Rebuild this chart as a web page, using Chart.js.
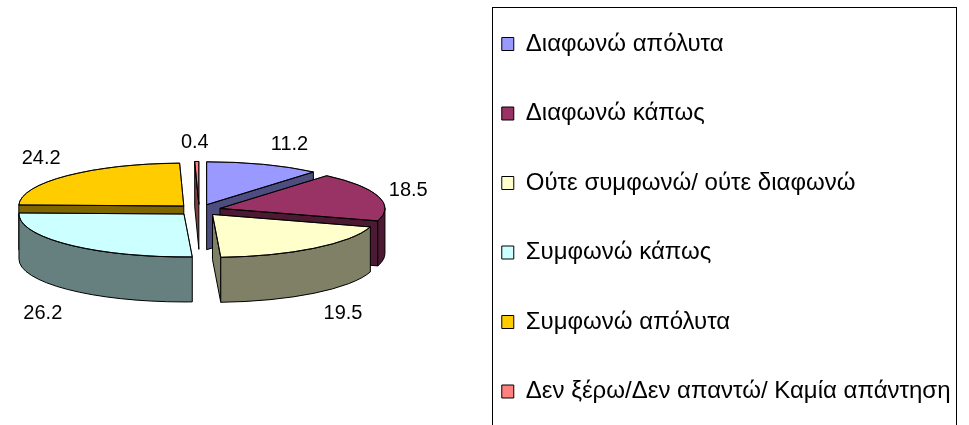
<!DOCTYPE html>
<html>
<head>
<meta charset="utf-8">
<script src="https://cdn.jsdelivr.net/npm/chart.js@4"></script>
<style>
  html, body { margin: 0; padding: 0; background: #fff; overflow: hidden; height: 425px; }
  /* canvas is bigger than the window, the legend frame gets cut off at the bottom */
  canvas { display: block; margin: -29px 0 0 -58px; }
</style>
</head>
<body>
<canvas id="pie" width="1030" height="478"></canvas>
<script>
const categories = ['Διαφωνώ απόλυτα', 'Διαφωνώ κάπως', 'Ούτε συμφωνώ/ ούτε διαφωνώ', 'Συμφωνώ κάπως', 'Συμφωνώ απόλυτα', 'Δεν ξέρω/Δεν απαντώ/ Καμία απάντηση'];
const values = [11.2, 18.5, 19.5, 26.2, 24.2, 0.4];
const topColors = ['#9999FF', '#993366', '#FFFFCC', '#CCFFFF', '#FFCC00', '#FF8080'];
const sideColors = ['#4D4D80', '#4D1A33', '#808066', '#668080', '#806600', '#804040'];

// back slices first so the front ones cover them
const drawOrder = [5, 0, 4, 1, 3, 2];
// label nudge from the rim point of each slice
const labelNudge = [[26, -20], [30, -6], [29, 65], [-26, 69], [-26, -17], [-2, -19]];

const squash = 0.26;
const depth = 45;
const explode = 21.7;

function tipOf(arc) {
  const mid = (arc.startAngle + arc.endAngle) / 2;
  return {
    x: arc.x + Math.cos(mid) * explode,
    y: arc.y + Math.sin(mid) * explode * squash,
    mid: mid
  };
}

function radialWall(ctx, tip, r, angle) {
  const rx = tip.x + Math.cos(angle) * r;
  const ry = tip.y + Math.sin(angle) * r * squash;
  ctx.beginPath();
  ctx.moveTo(tip.x, tip.y);
  ctx.lineTo(rx, ry);
  ctx.lineTo(rx, ry + depth);
  ctx.lineTo(tip.x, tip.y + depth);
  ctx.closePath();
  ctx.fill();
  ctx.stroke();
}

const pie3d = {
  id: 'pie3d',
  // the arcs are painted here, squashed and with walls, instead of flat
  beforeDatasetDraw(chart) {
    const ctx = chart.ctx;
    const arcs = chart.getDatasetMeta(0).data;
    ctx.save();
    ctx.lineWidth = 1;
    ctx.strokeStyle = '#000';
    ctx.lineJoin = 'round';
    drawOrder.forEach(i => {
      const arc = arcs[i];
      const tip = tipOf(arc);
      const r = arc.outerRadius;
      const s = arc.startAngle;
      const e = arc.endAngle;
      ctx.fillStyle = sideColors[i];
      if (Math.cos(s) < 0) radialWall(ctx, tip, r, s);
      if (Math.cos(e) > 0) radialWall(ctx, tip, r, e);
      const s2 = Math.max(s, 0);
      const e2 = Math.min(e, Math.PI);
      if (s2 < e2) {
        ctx.beginPath();
        ctx.ellipse(tip.x, tip.y, r, r * squash, 0, s2, e2);
        ctx.ellipse(tip.x, tip.y + depth, r, r * squash, 0, e2, s2, true);
        ctx.closePath();
        ctx.fill();
        ctx.stroke();
      }
      ctx.save();
      ctx.translate(tip.x, tip.y);
      ctx.scale(1, squash);
      ctx.translate(-arc.x, -arc.y);
      arc.draw(ctx);
      ctx.restore();
      ctx.lineWidth = 1;
      ctx.strokeStyle = '#000';
      ctx.beginPath();
      ctx.moveTo(tip.x, tip.y);
      ctx.ellipse(tip.x, tip.y, r, r * squash, 0, s, e);
      ctx.closePath();
      ctx.stroke();
    });
    ctx.restore();
    return false;
  },
  afterDraw(chart) {
    const ctx = chart.ctx;
    const arcs = chart.getDatasetMeta(0).data;
    ctx.save();
    ctx.font = '20px "Liberation Sans"';
    ctx.fillStyle = '#000';
    ctx.textAlign = 'center';
    ctx.textBaseline = 'middle';
    arcs.forEach((arc, i) => {
      const tip = tipOf(arc);
      const x = tip.x + Math.cos(tip.mid) * arc.outerRadius + labelNudge[i][0];
      const y = tip.y + Math.sin(tip.mid) * arc.outerRadius * squash + labelNudge[i][1];
      ctx.fillText(values[i].toFixed(1), x, y);
    });
    // legend frame, runs off the bottom of the window
    ctx.strokeStyle = '#000';
    ctx.lineWidth = 1;
    ctx.strokeRect(550.5, 36.5, 464, 500);
    ctx.restore();
  }
};

new Chart(document.getElementById('pie'), {
  type: 'pie',
  data: {
    labels: categories,
    datasets: [{
      data: values,
      backgroundColor: topColors,
      borderColor: '#000',
      borderWidth: 1,
      clip: false
    }]
  },
  options: {
    responsive: false,
    animation: false,
    radius: 165,
    layout: { autoPadding: false, padding: { right: 11.5 } },
    plugins: {
      tooltip: { enabled: false },
      legend: {
        position: 'right',
        align: 'end',
        labels: {
          color: '#000',
          boxWidth: 12,
          boxHeight: 13,
          padding: 45.5,
          font: { family: '"Liberation Sans"', size: 24 }
        }
      }
    }
  },
  plugins: [pie3d]
});
</script>
</body>
</html>
